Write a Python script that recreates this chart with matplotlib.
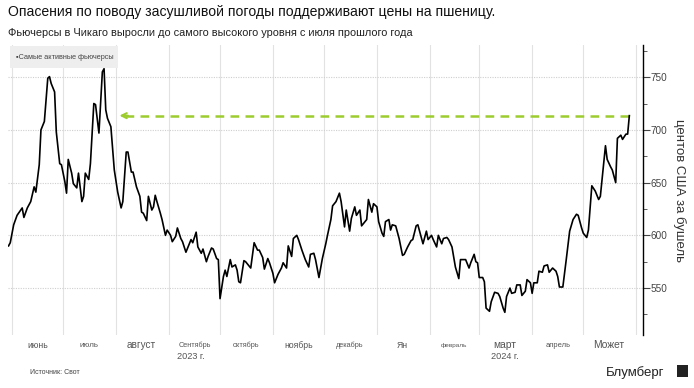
import numpy as np
import pandas as pd
import matplotlib
matplotlib.use("Agg")
import matplotlib.pyplot as plt
from matplotlib.patches import Rectangle

plt.rcParams["font.family"] = ["Liberation Sans", "DejaVu Sans"]

# daily closes, US cents per bushel
dates = [
    "2023-05-30", "2023-05-31", "2023-06-02", "2023-06-04", "2023-06-07", "2023-06-08", "2023-06-10",
    "2023-06-12", "2023-06-14", "2023-06-15", "2023-06-17", "2023-06-18", "2023-06-20", "2023-06-22",
    "2023-06-23", "2023-06-24", "2023-06-26", "2023-06-27", "2023-06-29", "2023-06-30", "2023-07-02",
    "2023-07-03", "2023-07-04", "2023-07-06", "2023-07-07", "2023-07-09", "2023-07-10", "2023-07-12",
    "2023-07-13", "2023-07-14", "2023-07-16", "2023-07-17", "2023-07-19", "2023-07-20", "2023-07-22",
    "2023-07-24", "2023-07-25", "2023-07-26", "2023-07-27", "2023-07-29", "2023-07-31", "2023-08-02",
    "2023-08-04", "2023-08-05", "2023-08-07", "2023-08-08", "2023-08-10", "2023-08-11", "2023-08-13",
    "2023-08-15", "2023-08-16", "2023-08-17", "2023-08-19", "2023-08-20", "2023-08-22", "2023-08-23",
    "2023-08-24", "2023-08-25", "2023-08-27", "2023-08-28", "2023-08-30", "2023-08-31", "2023-09-02",
    "2023-09-03", "2023-09-05", "2023-09-06", "2023-09-08", "2023-09-09", "2023-09-11", "2023-09-12",
    "2023-09-14", "2023-09-15", "2023-09-17", "2023-09-18", "2023-09-20", "2023-09-21", "2023-09-23",
    "2023-09-24", "2023-09-26", "2023-09-27", "2023-09-29", "2023-09-30", "2023-10-01", "2023-10-03",
    "2023-10-04", "2023-10-05", "2023-10-07", "2023-10-08", "2023-10-10", "2023-10-11", "2023-10-12",
    "2023-10-13", "2023-10-15", "2023-10-16", "2023-10-19", "2023-10-21", "2023-10-23", "2023-10-24",
    "2023-10-26", "2023-10-27", "2023-10-29", "2023-10-30", "2023-11-01", "2023-11-02", "2023-11-04",
    "2023-11-06", "2023-11-07", "2023-11-09", "2023-11-10", "2023-11-12", "2023-11-13", "2023-11-15",
    "2023-11-16", "2023-11-18", "2023-11-20", "2023-11-22", "2023-11-23", "2023-11-25", "2023-11-26",
    "2023-11-28", "2023-11-30", "2023-12-02", "2023-12-03", "2023-12-05", "2023-12-06", "2023-12-08",
    "2023-12-10", "2023-12-11", "2023-12-13", "2023-12-14", "2023-12-16", "2023-12-17", "2023-12-19",
    "2023-12-20", "2023-12-22", "2023-12-23", "2023-12-26", "2023-12-27", "2023-12-29", "2023-12-30",
    "2024-01-01", "2024-01-02", "2024-01-04", "2024-01-05", "2024-01-06", "2024-01-08", "2024-01-09",
    "2024-01-10", "2024-01-12", "2024-01-14", "2024-01-16", "2024-01-17", "2024-01-19", "2024-01-21",
    "2024-01-22", "2024-01-24", "2024-01-25", "2024-01-27", "2024-01-28", "2024-01-30", "2024-01-31",
    "2024-02-02", "2024-02-03", "2024-02-05", "2024-02-06", "2024-02-08", "2024-02-09", "2024-02-11",
    "2024-02-12", "2024-02-14", "2024-02-16", "2024-02-18", "2024-02-19", "2024-02-21", "2024-02-22",
    "2024-02-24", "2024-02-25", "2024-02-27", "2024-02-28", "2024-02-29", "2024-03-01", "2024-03-03",
    "2024-03-04", "2024-03-05", "2024-03-07", "2024-03-08", "2024-03-10", "2024-03-12", "2024-03-13",
    "2024-03-15", "2024-03-16", "2024-03-17", "2024-03-19", "2024-03-20", "2024-03-22", "2024-03-23",
    "2024-03-25", "2024-03-26", "2024-03-28", "2024-03-29", "2024-03-31", "2024-04-01", "2024-04-02",
    "2024-04-04", "2024-04-05", "2024-04-07", "2024-04-08", "2024-04-10", "2024-04-11", "2024-04-13",
    "2024-04-15", "2024-04-16", "2024-04-17", "2024-04-19", "2024-04-21", "2024-04-23", "2024-04-25",
    "2024-04-27", "2024-04-28", "2024-04-30", "2024-05-01", "2024-05-03", "2024-05-04", "2024-05-06",
    "2024-05-08", "2024-05-10", "2024-05-11", "2024-05-14", "2024-05-15", "2024-05-17", "2024-05-18",
    "2024-05-20", "2024-05-21", "2024-05-23", "2024-05-24", "2024-05-26", "2024-05-27", "2024-05-28",
]
prices = [
    590, 593, 610, 619, 626, 617, 626,
    632, 646, 641, 667, 700, 708, 749,
    750.5, 744, 736, 698, 668, 667, 651,
    640, 672, 659, 649, 645, 659, 632,
    637, 659, 653, 668, 725, 724, 697,
    755, 758, 719, 711, 703, 662, 641,
    626, 632, 679, 679, 660, 660, 646,
    637, 622, 621, 614, 637, 624, 627,
    638, 632, 621, 615, 600, 605, 600,
    594, 599, 607, 597, 594, 584, 588,
    596, 593, 603, 589, 583, 587, 575,
    580, 588, 587, 578, 577, 540, 561,
    567, 561, 577, 570, 572, 567, 556,
    555, 576, 575, 569, 593, 586, 586,
    579, 568, 578, 574, 564, 555, 563,
    569, 574, 569, 590, 580, 597, 600,
    596, 586, 577, 570, 582, 583, 577,
    560, 578, 592, 600, 615, 628, 632,
    640, 632, 608, 624, 604, 616, 627,
    619, 624, 609, 615, 634, 622, 630,
    627, 613, 602, 599, 613, 615, 605,
    610, 609, 597, 581, 582, 589, 595,
    596, 609, 610, 598, 592, 604, 596,
    600, 596, 589, 600, 592, 597, 598,
    596, 589, 570, 559, 577, 577, 577,
    569, 574, 582, 575, 574, 560, 560,
    556, 531, 528, 537, 546, 545, 542,
    531, 527, 542, 550, 545, 546, 553,
    553, 543, 547, 558, 555, 545, 555,
    555, 566, 565, 571, 572, 565, 569,
    566, 561, 551, 551, 577, 604, 615,
    620, 619, 607, 602, 598, 605, 647,
    642, 634, 637, 685, 672, 665, 662,
    650, 692, 695, 691, 696, 696, 713.5,
]

month_names = ["июнь", "июль", "август", "Сентябрь", "октябрь", "ноябрь", "декабрь",
               "Ян", "февраль", "март", "апрель", "Может"]
month_mid = ["2023-06-16", "2023-07-16", "2023-08-16", "2023-09-16", "2023-10-16", "2023-11-16",
             "2023-12-16", "2024-01-16", "2024-02-15", "2024-03-16", "2024-04-16", "2024-05-16"]
month_sizes = [6.2, 5.8, 7.2, 5.2, 5.2, 6.2, 5.2, 6.2, 4.6, 7.4, 5.4, 7.4]
years = ["2023 г.", "2024 г."]
year_pos = ["2023-09-14", "2024-03-16"]
yticks = [550, 600, 650, 700, 750]

arrow_start = "2023-08-03"
level = prices[-1]

t = pd.to_datetime(dates)

fig = plt.figure(figsize=(6.94, 3.88), dpi=100)
ax = fig.add_axes([0.0115, 0.1366, 0.915, 0.7474])

ax.plot(t, prices, color="black", lw=1.2, zorder=3)

# dashed marker of the latest level, pointing back to last July
ax.plot([pd.Timestamp(arrow_start) + pd.Timedelta(days=3), t[-1]], [level, level],
        color="#9ccc2e", lw=1.8, dashes=(3.5, 2.5), zorder=2)
ax.annotate("", xy=(pd.Timestamp(arrow_start), level),
            xytext=(pd.Timestamp(arrow_start) + pd.Timedelta(days=5), level),
            arrowprops=dict(arrowstyle="->", color="#9ccc2e", lw=1.5,
                            mutation_scale=9, shrinkA=0, shrinkB=0))

ax.set_xlim(pd.Timestamp("2023-05-29 16:00"), pd.Timestamp("2024-06-05"))
ax.set_ylim(505.5, 780.5)

# grid
month_starts = pd.date_range("2023-06-01", "2024-06-01", freq="MS")
for m in month_starts:
    ax.axvline(m, color="#e2e2e2", lw=0.8, zorder=0)
for v in yticks:
    ax.axhline(v, color="#cfcfcf", lw=0.8, ls=(0, (1, 1.2)), zorder=0)

for s in ["left", "top", "bottom"]:
    ax.spines[s].set_visible(False)
ax.spines["right"].set_color("black")
ax.spines["right"].set_linewidth(1.0)

ax.set_xticks([])
ax.yaxis.tick_right()
ax.set_yticks(yticks)
ax.set_yticks(np.arange(525, 781, 50), minor=True)
ax.tick_params(axis="y", which="major", length=5, width=0.8, pad=0.5,
               labelsize=7.2, colors="#444444")
ax.tick_params(axis="y", which="minor", length=3, width=0.6, color="#444444")
ax.yaxis.set_label_position("right")
ax.set_ylabel("центов США за бушель", rotation=-90, labelpad=13,
              fontsize=9.5, color="#333333")

xt = ax.get_xaxis_transform()
for name, mid, fs in zip(month_names, month_mid, month_sizes):
    ax.text(pd.Timestamp(mid), -0.036, name, transform=xt, ha="center", va="center",
            fontsize=fs, color="#555555")
for name, pos in zip(years, year_pos):
    ax.text(pd.Timestamp(pos), -0.075, name, transform=xt, ha="center", va="center",
            fontsize=6.6, color="#555555")

# legend chip
ax.add_patch(Rectangle((0.003, 0.92), 0.17, 0.075, transform=ax.transAxes,
                       facecolor="#eeeeee", edgecolor="none", zorder=1))
ax.text(0.012, 0.957, "▪Самые активные фьючерсы", transform=ax.transAxes,
        fontsize=5.2, color="#444444", va="center", ha="left", zorder=4)

fig.text(0.0115, 0.968, "Опасения по поводу засушливой погоды поддерживают цены на пшеницу.",
         fontsize=10.1, color="#111111", va="center", ha="left")
fig.text(0.0115, 0.915, "Фьючерсы в Чикаго выросли до самого высокого уровня с июля прошлого года",
         fontsize=7.9, color="#222222", va="center", ha="left")
fig.text(0.043, 0.04, "Источник: Свот", fontsize=5, color="#444444", va="center", ha="left")
fig.text(0.958, 0.04, "Блумберг", fontsize=9.5, color="#222222", va="center", ha="right")

# small logo square
fig.patches.append(Rectangle((0.975, 0.028), 0.016, 0.03, transform=fig.transFigure,
                             facecolor="#222222", edgecolor="none"))

fig.savefig("out.png", dpi=100, facecolor="white")
